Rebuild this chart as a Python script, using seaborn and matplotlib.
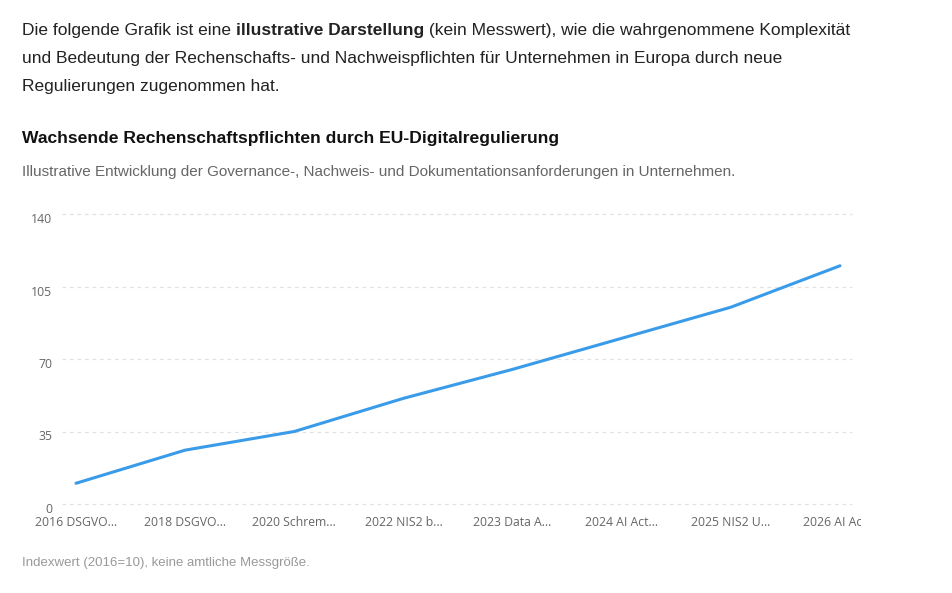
import matplotlib
matplotlib.use("Agg")
import pandas as pd
import seaborn as sns
import matplotlib.pyplot as plt
import matplotlib.transforms as mtransforms
from matplotlib.patches import Rectangle

# Daten
labels = ["2016 DSGVO…", "2018 DSGVO…", "2020 Schrem…", "2022 NIS2 b…",
          "2023 Data A…", "2024 AI Act…", "2025 NIS2 U…", "2026 AI Act…"]
index_values = [10, 26, 35, 51, 65, 80, 95, 115]
y_ticks = [0, 35, 70, 105, 140]

df = pd.DataFrame({"pos": range(len(labels)), "wert": index_values})

sns.set_theme(style="white")
plt.rcParams["font.family"] = ["Liberation Sans", "DejaVu Sans"]

W, H = 952, 593
fig = plt.figure(figsize=(W / 100, H / 100), dpi=100)
fig.patch.set_facecolor("white")


def px(x, y):
    return x / W, 1 - y / H


# Einleitungstext mit fettem Teil
renderer = fig.canvas.get_renderer()
text_color = "#222222"
body_size = 12.5
parts = [("Die folgende Grafik ist eine ", "normal"),
         ("illustrative Darstellung", "bold"),
         (" (kein Messwert), wie die wahrgenommene Komplexität", "normal")]
x0 = 22
for txt, weight in parts:
    t = fig.text(*px(x0, 30), txt, fontsize=body_size, fontweight=weight,
                 color=text_color, va="center", ha="left")
    x0 += t.get_window_extent(renderer).width
fig.text(*px(22, 58), "und Bedeutung der Rechenschafts- und Nachweispflichten für "
         "Unternehmen in Europa durch neue", fontsize=body_size, color=text_color,
         va="center", ha="left")
fig.text(*px(22, 86), "Regulierungen zugenommen hat.", fontsize=body_size,
         color=text_color, va="center", ha="left")

# Titel und Untertitel
fig.text(*px(22, 139), "Wachsende Rechenschaftspflichten durch EU-Digitalregulierung",
         fontsize=12.6, fontweight="bold", color="#111111", va="center", ha="left")
fig.text(*px(22, 172), "Illustrative Entwicklung der Governance-, Nachweis- und "
         "Dokumentationsanforderungen in Unternehmen.", fontsize=10.97,
         color="#666666", va="center", ha="left")

# Diagramm
ax = fig.add_axes([62 / W, 89 / H, (852 - 62) / W, 290 / H])
sns.lineplot(data=df, x="pos", y="wert", ax=ax, color="#3a9be8", linewidth=2.2)

ax.set_xlim(-0.128, len(labels) - 1 + 0.11)
ax.set_ylim(0, 140)
ax.set_yticks(y_ticks)
ax.set_xticks(range(len(labels)))
ax.set_xticklabels(labels)
ax.set_xlabel("")
ax.set_ylabel("")
for s in ax.spines.values():
    s.set_visible(False)
ax.grid(axis="y", color="#e2e2e2", linestyle=(0, (3, 3)), linewidth=0.9)
ax.grid(axis="x", visible=False)
for gl in ax.get_ygridlines():
    gl.set_clip_on(False)
ax.tick_params(axis="both", length=0, labelsize=8.8, labelcolor="#666666")
ax.tick_params(axis="y", pad=7)
ax.tick_params(axis="x", pad=9)
for lbl in ax.get_xticklabels() + ax.get_yticklabels():
    lbl.set_family(["Open Sans", "DejaVu Sans"])
# y-Beschriftungen leicht unter die Gitterlinien schieben
shift = mtransforms.ScaledTranslation(0, -4 / 100, fig.dpi_scale_trans)
for lbl in ax.get_yticklabels():
    lbl.set_transform(lbl.get_transform() + shift)
# letztes Label wird am Rand abgeschnitten
clip = Rectangle((0, 0), 861 / W, 1, transform=fig.transFigure)
for lbl in ax.get_xticklabels():
    lbl.set_clip_path(clip)

# Fußnote
fig.text(*px(22, 563), "Indexwert (2016=10), keine amtliche Messgröße.",
         fontsize=9.5, color="#999999", va="center", ha="left")

fig.savefig("out.png", dpi=100, facecolor="white")
